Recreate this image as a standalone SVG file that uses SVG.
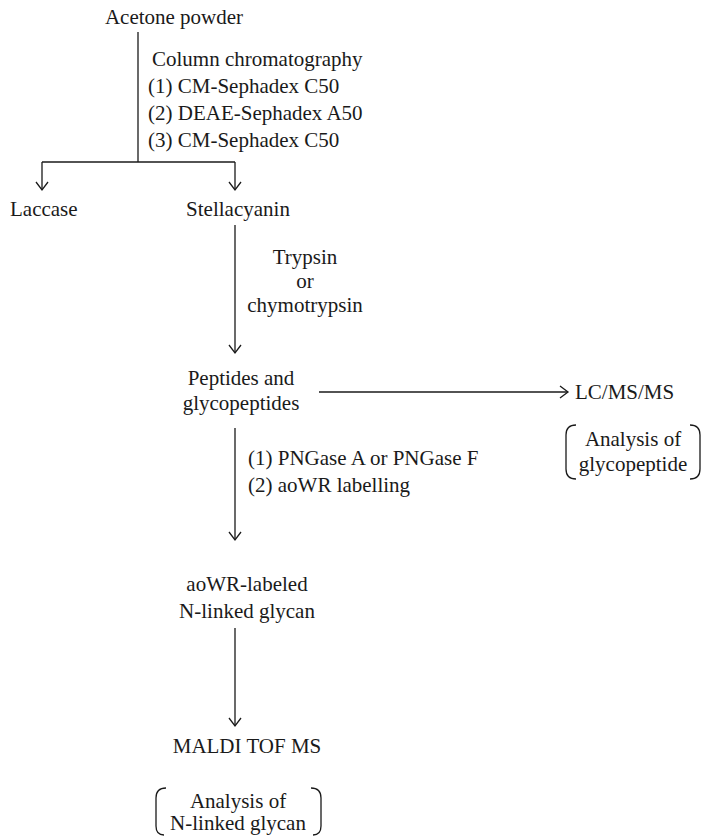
<svg xmlns="http://www.w3.org/2000/svg" width="707" height="837" viewBox="0 0 707 837">
<style>
text{font-family:"Liberation Serif","Times New Roman",serif;font-size:21px;fill:#1a1a1a}
.c{text-anchor:middle}
.ln{stroke:#1a1a1a;stroke-width:1.3;fill:none}
.br{stroke:#1a1a1a;stroke-width:1.3;fill:none}
</style>
<defs>
<marker id="ah" viewBox="-10 -10 20 20" markerWidth="20" markerHeight="20" refX="0" refY="0" orient="auto" markerUnits="userSpaceOnUse">
<path d="M-8,-6 L0,0 L-8,6" fill="none" stroke="#1a1a1a" stroke-width="1.3"/>
</marker>
</defs>
<rect width="707" height="837" fill="#fff"/>
<g id="connectors">
<path class="ln" d="M138,32 V162"/>
<path class="ln" d="M42,162 H235"/>
<path class="ln" d="M42,162 V190" marker-end="url(#ah)"/>
<path class="ln" d="M235,162 V190" marker-end="url(#ah)"/>
<path class="ln" d="M235,225 V353" marker-end="url(#ah)"/>
<path class="ln" d="M319,392 H568" marker-end="url(#ah)"/>
<path class="ln" d="M235,428 V540" marker-end="url(#ah)"/>
<path class="ln" d="M235,628 V726" marker-end="url(#ah)"/>
</g>
<g id="acetone"><text class="c" x="174" y="24">Acetone powder</text></g>
<g id="column-label">
<text x="152" y="66">Column chromatography</text>
<text x="148" y="93">(1) CM-Sephadex C50</text>
<text x="148" y="120">(2) DEAE-Sephadex A50</text>
<text x="148" y="147">(3) CM-Sephadex C50</text>
</g>
<g id="laccase"><text x="10" y="216">Laccase</text></g>
<g id="stellacyanin"><text class="c" x="238" y="216">Stellacyanin</text></g>
<g id="trypsin-label">
<text class="c" x="305" y="264">Trypsin</text>
<text class="c" x="305" y="288">or</text>
<text class="c" x="305" y="312">chymotrypsin</text>
</g>
<g id="peptides">
<text class="c" x="241" y="385">Peptides and</text>
<text class="c" x="241" y="410">glycopeptides</text>
</g>
<g id="lcmsms"><text x="575" y="399">LC/MS/MS</text></g>
<g id="analysis-glycopeptide">
<path class="br" d="M576,425 Q566,425 566,435 V469 Q566,479 576,479"/>
<path class="br" d="M690,425 Q700,425 700,435 V469 Q700,479 690,479"/>
<text class="c" x="633" y="446">Analysis of</text>
<text class="c" x="633" y="471">glycopeptide</text>
</g>
<g id="pngase-label">
<text x="248" y="465">(1) PNGase A or PNGase F</text>
<text x="248" y="492">(2) aoWR labelling</text>
</g>
<g id="aowr">
<text class="c" x="247" y="591">aoWR-labeled</text>
<text class="c" x="247" y="618">N-linked glycan</text>
</g>
<g id="maldi"><text class="c" x="247" y="753">MALDI TOF MS</text></g>
<g id="analysis-glycan">
<path class="br" d="M166,788 Q156,788 156,798 V826 Q156,835 164,835"/>
<path class="br" d="M311,788 Q321,788 321,798 V826 Q321,835 313,835"/>
<text class="c" x="238" y="808">Analysis of</text>
<text class="c" x="238" y="830">N-linked glycan</text>
</g>
</svg>
